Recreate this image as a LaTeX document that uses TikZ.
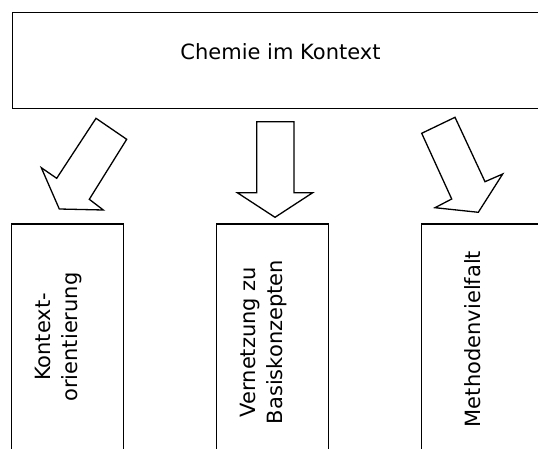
\documentclass[tikz,border=0pt]{standalone}
\usepackage{fontspec}
\setmainfont{DejaVu Sans}
\begin{document}
\begin{tikzpicture}[x=1pt,y=-1pt,
  box/.style={draw=black,line width=1.3pt,fill=white,inner sep=0pt},
  blockarrow/.style={draw=black,line width=1.3pt,fill=white,line join=miter},
  lbl/.style={font=\fontsize{21}{27}\selectfont,inner sep=0pt,align=center}]
\useasboundingbox (0,0) rectangle (538,449);
\clip (0,0) rectangle (538,449);
% top box
\node[box,minimum width=560pt,minimum height=96pt,anchor=north west] (top) at (12,12) {};
\node[lbl,anchor=base] (toptext) at (280.5,60) {Chemie im Kontext};
% bottom boxes
\node[box,minimum width=112pt,minimum height=260pt,anchor=north west] (b1) at (11,223.3) {};
\node[box,minimum width=112pt,minimum height=260pt,anchor=north west] (b2) at (216,223.3) {};
\node[box,minimum width=140pt,minimum height=260pt,anchor=north west] (b3) at (421,223.3) {};
\node[lbl,rotate=90] (t1) at (59,337) {Kontext-\\orientierung};
\node[lbl,rotate=90] (t2) at (264,342) {Vernetzung zu\\Basiskonzepten};
\node[lbl,rotate=90] (t3) at (473,339) {Methodenvielfalt};
% block arrows
\draw[blockarrow] (96,118.3) -- (126.7,139.3) -- (89.3,199.3) -- (103.3,210) -- (59.3,209) -- (41.3,167.7) -- (56.7,178.3) -- cycle;
\draw[blockarrow] (256.7,121.7) -- (294,121.7) -- (294,192.7) -- (312.7,192.7) -- (275,217.3) -- (237.3,192.7) -- (256.7,192.7) -- cycle;
\draw[blockarrow] (421.7,133.3) -- (455,117.3) -- (485,181.7) -- (502.7,174) -- (478.3,212.3) -- (435,207.7) -- (451.7,199) -- cycle;
\end{tikzpicture}
\end{document}
